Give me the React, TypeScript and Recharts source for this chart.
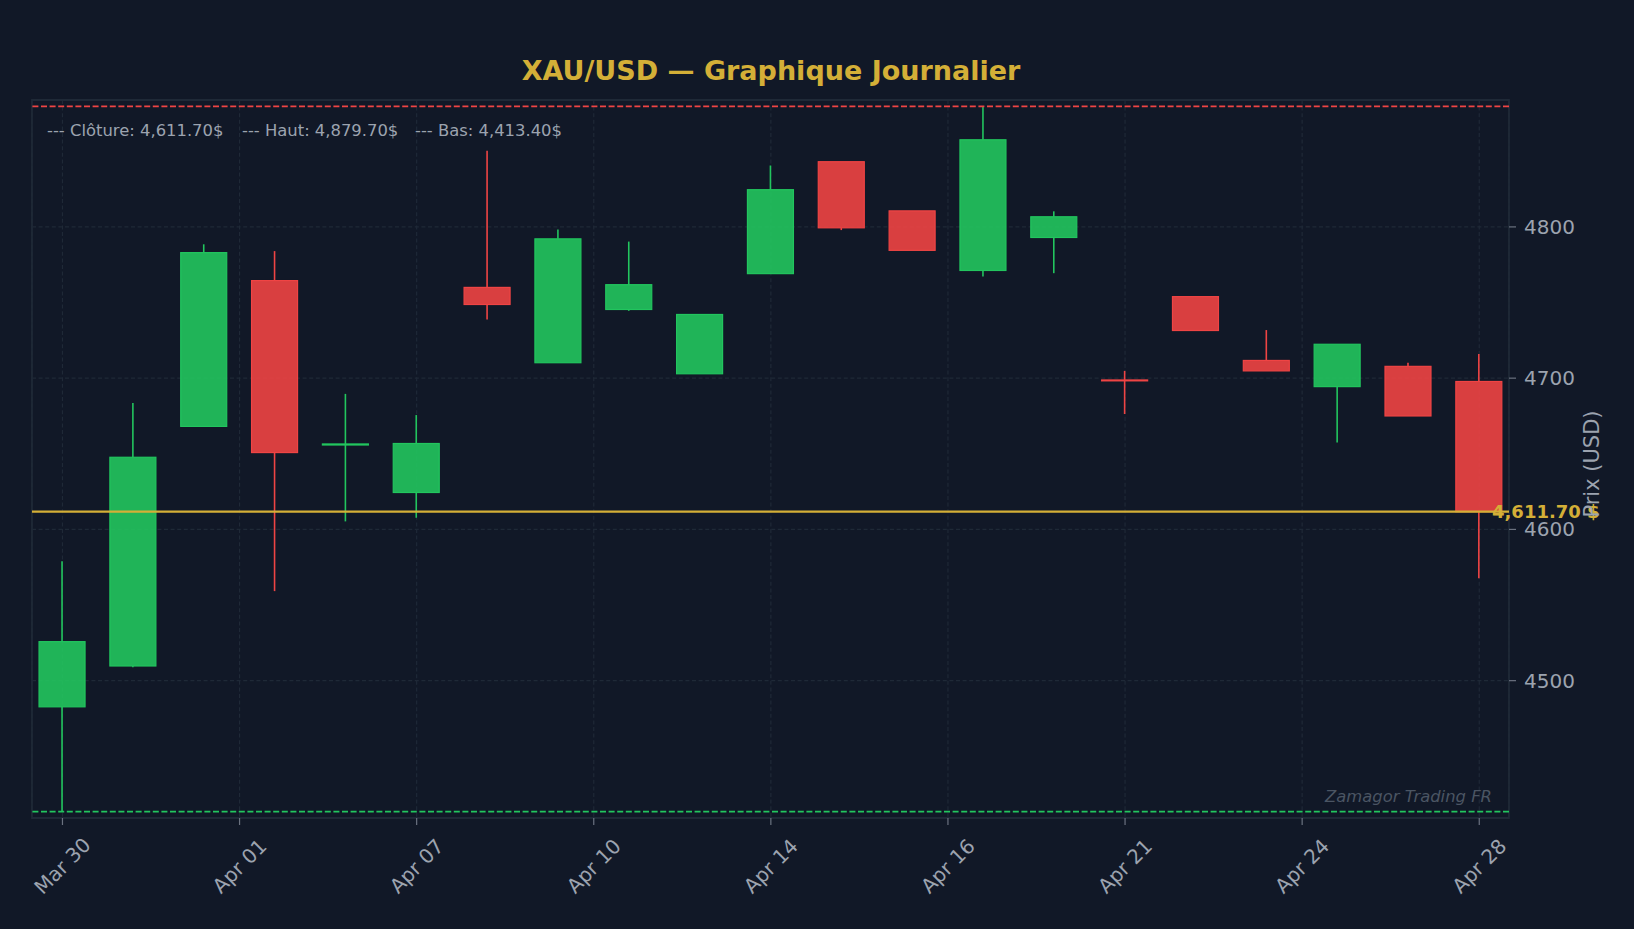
import React from 'react';
import {
  ComposedChart,
  Bar,
  XAxis,
  YAxis,
  CartesianGrid,
  ReferenceLine,
  ReferenceArea,
} from 'recharts';

// ---------- data ----------
const IDX = [0, 1, 2, 3, 4, 5, 6, 7, 8, 9, 10, 11, 12, 13, 14, 15, 16, 17, 18, 19, 20];
const OPEN = [4482.7, 4509.7, 4668.1, 4764.5, 4655.8, 4624.4, 4760.0, 4710.2, 4745.4, 4702.9, 4769.1, 4843.1, 4810.6, 4771.2, 4793.0, 4698.8, 4753.9, 4711.7, 4694.4, 4707.8, 4697.8];
const HIGH = [4578.9, 4683.5, 4788.5, 4784.0, 4689.6, 4675.6, 4850.3, 4798.2, 4790.3, 4742.1, 4840.6, 4843.1, 4810.6, 4879.7, 4810.3, 4704.8, 4753.9, 4731.8, 4722.4, 4710.2, 4716.0];
const LOW = [4413.4, 4508.8, 4668.1, 4559.2, 4605.3, 4607.7, 4738.7, 4710.2, 4744.5, 4702.9, 4769.1, 4797.9, 4784.5, 4767.2, 4769.4, 4676.3, 4731.5, 4704.8, 4657.4, 4675.0, 4567.7];
const CLOSE = [4525.8, 4647.7, 4783.0, 4650.8, 4656.5, 4656.8, 4748.7, 4792.1, 4761.8, 4742.1, 4824.6, 4799.4, 4784.5, 4857.6, 4806.7, 4698.2, 4731.5, 4704.8, 4722.4, 4675.0, 4611.7];

const TICK_POS = [0, 2.5, 5, 7.5, 10, 12.5, 15, 17.5, 20];
const TICK_LABELS = ['Mar 30', 'Apr 01', 'Apr 07', 'Apr 10', 'Apr 14', 'Apr 16', 'Apr 21', 'Apr 24', 'Apr 28'];
const Y_TICKS = [4500, 4600, 4700, 4800];

const LAST_CLOSE = CLOSE[CLOSE.length - 1];
const MAX_HIGH = Math.max(...HIGH);
const MIN_LOW = Math.min(...LOW);

const X_DOMAIN = [-0.43, 20.42];
const Y_DOMAIN = [4409.2, 4883.9];

const data = IDX.map((i) => ({
  i,
  open: OPEN[i],
  high: HIGH[i],
  low: LOW[i],
  close: CLOSE[i],
  range: [LOW[i], HIGH[i]],
}));

// ---------- style ----------
const BG = '#111827';
const GREEN = '#22c55e';
const RED = '#ef4444';
const GOLD = '#d4af37';
const GRID = '#1f2937';
const SPINE = '#1f2937';
const TXT = '#9ca3af';
const FONT = '"DejaVu Sans", sans-serif';

const W = 1634;
const H = 929;

const fmt = (v: number) =>
  v.toLocaleString('en-US', { minimumFractionDigits: 2, maximumFractionDigits: 2 });

const Candle = (props: any) => {
  const { x, y, width, height, payload } = props;
  if (x == null || y == null) return null;
  const { open, close, high, low } = payload;
  const up = close >= open;
  const color = up ? GREEN : RED;
  const span = high - low;
  const ratio = span > 0 ? height / span : 0;
  const yOf = (v: number) => y + (high - v) * ratio;
  const cx = x + width / 2;
  const top = yOf(Math.max(open, close));
  const bottom = yOf(Math.min(open, close));
  const bh = Math.max(bottom - top, 0.01);
  return (
    <g>
      {top - y > 0.3 && (
        <line x1={cx} x2={cx} y1={y} y2={top} stroke={color} strokeWidth={1.6} />
      )}
      {y + height - bottom > 0.3 && (
        <line x1={cx} x2={cx} y1={bottom} y2={y + height} stroke={color} strokeWidth={1.6} />
      )}
      <rect
        x={x}
        y={top}
        width={width}
        height={bh}
        fill={color}
        fillOpacity={0.9}
        stroke={color}
        strokeWidth={1.2}
      />
    </g>
  );
};

const XTick = (props: any) => {
  const { x, y, payload } = props;
  const idx = TICK_POS.indexOf(payload.value);
  const label = idx >= 0 ? TICK_LABELS[idx] : '';
  const cy = y + 39;
  return (
    <text
      x={x}
      y={cy}
      textAnchor="middle"
      dominantBaseline="central"
      fill={TXT}
      fontSize={20}
      fontFamily={FONT}
      transform={`rotate(-45, ${x}, ${cy})`}
    >
      {label}
    </text>
  );
};

const YTick = (props: any) => {
  const { x, y, payload } = props;
  return (
    <text x={x + 6} y={y} textAnchor="start" dominantBaseline="central" fill={TXT} fontSize={20} fontFamily={FONT}>
      {payload.value}
    </text>
  );
};

const CloseLabel = (props: any) => {
  const vb = props.viewBox || {};
  const xr = (vb.x || 0) + (vb.width || 0);
  return (
    <text
      x={xr - 17}
      y={vb.y}
      dominantBaseline="central"
      fill={GOLD}
      fontSize={18}
      fontWeight="bold"
      fontFamily={FONT}
    >
      {`${fmt(LAST_CLOSE)} $`}
    </text>
  );
};

export default function App() {
  return (
    <div style={{ position: 'relative', width: W, height: H, background: BG, fontFamily: FONT }}>
      <style>{`html,body{margin:0;padding:0;background:${BG};overflow:hidden;}`}</style>
      <ComposedChart
        width={W}
        height={H}
        data={data}
        margin={{ top: 100, left: 32, right: 35, bottom: 51 }}
      >
        <CartesianGrid stroke={GRID} strokeDasharray="4 2.6" strokeWidth={1.2} />
        <XAxis
          dataKey="i"
          type="number"
          domain={X_DOMAIN}
          allowDataOverflow
          ticks={TICK_POS}
          interval={0}
          height={60}
          tick={<XTick />}
          tickLine={{ stroke: '#6b7280', strokeWidth: 1.2 }}
          tickSize={7}
          axisLine={false}
        />
        <YAxis
          orientation="right"
          type="number"
          domain={Y_DOMAIN}
          allowDataOverflow
          ticks={Y_TICKS}
          interval={0}
          width={90}
          tick={<YTick />}
          tickLine={{ stroke: '#6b7280', strokeWidth: 1.2 }}
          tickSize={7}
          axisLine={false}
        />
        <ReferenceArea
          x1={X_DOMAIN[0]}
          x2={X_DOMAIN[1]}
          y1={Y_DOMAIN[0]}
          y2={Y_DOMAIN[1]}
          fill="none"
          stroke={SPINE}
          strokeWidth={1.8}
          ifOverflow="visible"
        />
        <Bar dataKey="range" barSize={46} shape={<Candle />} isAnimationActive={false} />
        <ReferenceLine y={MAX_HIGH} stroke={RED} strokeDasharray="6 2.6" strokeWidth={1.6} />
        <ReferenceLine y={MIN_LOW} stroke={GREEN} strokeDasharray="6 2.6" strokeWidth={1.6} />
        <ReferenceLine y={LAST_CLOSE} stroke={GOLD} strokeWidth={2.2} label={<CloseLabel />} />
      </ComposedChart>
      <svg
        width={W}
        height={H}
        style={{ position: 'absolute', left: 0, top: 0, pointerEvents: 'none' }}
      >
        <text
          x={771}
          y={79.5}
          textAnchor="middle"
          fill={GOLD}
          fontSize={27}
          fontWeight="bold"
          fontFamily={FONT}
        >
          XAU/USD — Graphique Journalier
        </text>
        <text x={47} y={130} dominantBaseline="central" fill={TXT} fontSize={16.4} fontFamily={FONT}>
          {`--- Clôture: ${fmt(LAST_CLOSE)}$`}
        </text>
        <text x={242} y={130} dominantBaseline="central" fill={TXT} fontSize={16.4} fontFamily={FONT}>
          {`--- Haut: ${fmt(MAX_HIGH)}$`}
        </text>
        <text x={415} y={130} dominantBaseline="central" fill={TXT} fontSize={16.4} fontFamily={FONT}>
          {`--- Bas: ${fmt(MIN_LOW)}$`}
        </text>
        <text
          x={1492}
          y={796}
          textAnchor="end"
          dominantBaseline="central"
          fill="#4b5563"
          fontSize={16.4}
          fontStyle="italic"
          fontFamily={FONT}
        >
          Zamagor Trading FR
        </text>
        <text
          x={1592}
          y={464}
          textAnchor="middle"
          dominantBaseline="central"
          fill={TXT}
          fontSize={21}
          fontFamily={FONT}
          transform="rotate(-90, 1592, 464)"
        >
          Prix (USD)
        </text>
      </svg>
    </div>
  );
}
